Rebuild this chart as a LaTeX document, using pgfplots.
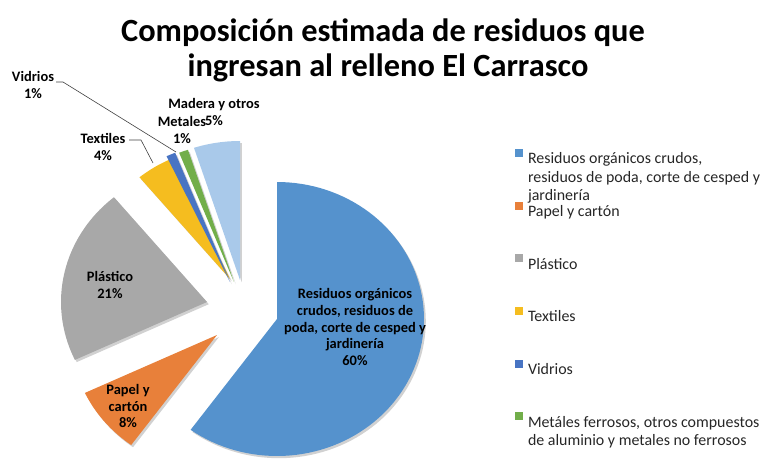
\documentclass[border=0pt]{standalone}
\usepackage{fontspec}
\setmainfont{Carlito}
\usepackage{pgfplots}
\pgfplotsset{compat=1.18}
\makeatletter
\tikzset{clearpre/.code={\def\tikz@preactions{}}}
\makeatother
\definecolor{cBlue}{HTML}{5592CD}
\definecolor{cOrange}{HTML}{E8803A}
\definecolor{cGray}{HTML}{A8A8A8}
\definecolor{cYellow}{HTML}{F5BD1F}
\definecolor{cDark}{HTML}{4874C3}
\definecolor{cGreen}{HTML}{72AE4A}
\definecolor{cLight}{HTML}{A9C9EA}
\begin{document}
\begin{tikzpicture}
\begin{axis}[
  scale only axis, width=765bp, height=461bp,
  xmin=0, xmax=765, ymin=0, ymax=461, y dir=reverse,
  hide axis, clip=false,
  slice/.style={draw=none, preaction={fill=black, opacity=0.18, transform canvas={xshift=1.8bp, yshift=-2.2bp}}},
  legend cell align=left,
  legend image code/.code={\fill[#1, clearpre] (0bp,2bp) rectangle (8bp,10bp);},
  legend style={at={(axis cs:515,149)}, anchor=north west, draw=none, fill=none,
    inner sep=0pt, outer sep=0pt, row sep=36.4bp,
    font=\fontsize{16}{18.5}\selectfont, text=black!85,
    nodes={inner sep=0pt},
    /tikz/every odd column/.append style={column sep=5bp}},
]
% frame of the picture (invisible)
\addplot[draw=none, forget plot] coordinates {(0,0) (765,461)};
% pie slices: percentages 60, 8, 21, 4, 1, 1, 5 clockwise from 12 o'clock
\addplot[fill=cBlue, slice, domain=-126:90, samples=90] ({277+147*cos(x)}, {319-137*sin(x)}) -- (axis cs:277,319) -- cycle;
\addlegendentry{\parbox[t]{230bp}{\mbox{Residuos orgánicos crudos,}\\\mbox{residuos de poda, corte de cesped y}\\\mbox{jardinería}}}
\addplot[fill=cOrange, slice, domain=-154.8:-126, samples=20] ({217+146*cos(x)}, {335-136*sin(x)}) -- (axis cs:217,335) -- cycle;
\addlegendentry{Papel y cartón}
\addplot[fill=cGray, slice, domain=129.6:205.2, samples=40] ({207+146*cos(x)}, {302-136*sin(x)}) -- (axis cs:207,302) -- cycle;
\addlegendentry{Plástico}
\addplot[fill=cYellow, slice, domain=115.2:129.6, samples=10] ({230+142*cos(x)}, {279-132*sin(x)}) -- (axis cs:230,279) -- cycle;
\addlegendentry{Textiles}
\addplot[fill=cDark, slice, domain=111.6:115.2, samples=4] ({230+149*cos(x)}, {282-139*sin(x)}) -- (axis cs:230,282) -- cycle;
\addlegendentry{Vidrios}
\addplot[fill=cGreen, slice, domain=108:111.6, samples=4] ({234+149*cos(x)}, {282-139*sin(x)}) -- (axis cs:234,282) -- cycle;
\addlegendentry{\parbox[t]{230bp}{\mbox{Metáles ferrosos, otros compuestos}\\\mbox{de aluminio y metales no ferrosos}}}
\addplot[fill=cLight, slice, domain=90:108, samples=12, forget plot] ({240+149*cos(x)}, {280-139*sin(x)}) -- (axis cs:240,280) -- cycle;
% leader lines
\addplot[black!75, line width=0.6bp, forget plot] coordinates {(56,82) (63,82) (176,152)};
\addplot[black!75, line width=0.6bp, forget plot] coordinates {(129,140) (141,140) (153,163)};
% data labels
\begin{scope}[every node/.style={font=\bfseries\fontsize{14.5}{16.8}\selectfont, align=center, inner sep=0pt, text=black}]
\node at (axis cs:355,327) {Residuos orgánicos\\crudos, residuos de\\poda, corte de cesped y\\jardinería\\60\%};
\node at (axis cs:110,285) {Plástico\\21\%};
\node at (axis cs:128,406) {Papel y\\cartón\\8\%};
\node at (axis cs:103,147) {Textiles\\4\%};
\node at (axis cs:33,85) {Vidrios\\1\%};
\node at (axis cs:214,112) {Madera y otros\\5\%};
\node at (axis cs:182,130) {Metales\\1\%};
\end{scope}
% title
\node[anchor=base, font=\bfseries\fontsize{32.5}{35}\selectfont] at (axis cs:383,42) {Composición estimada de residuos que};
\node[anchor=base, font=\bfseries\fontsize{32.5}{35}\selectfont] at (axis cs:388,77) {ingresan al relleno El Carrasco};
\end{axis}
\end{tikzpicture}
\end{document}
